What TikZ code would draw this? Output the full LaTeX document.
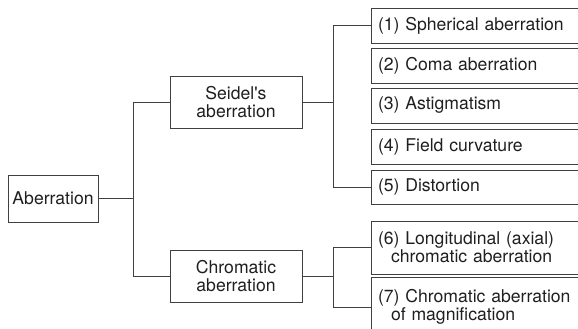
\documentclass[tikz,border=0pt]{standalone}
\usepackage{fontspec}
\setmainfont{TeX Gyre Heros}
\begin{document}
\begin{tikzpicture}[x=1pt,y=-1pt,
  lin/.style={draw=black!75,line width=0.9pt},
  box/.style={draw=black!75,line width=0.9pt,rectangle,inner sep=0pt,
    font=\fontsize{17.6}{18}\selectfont,text=black!88,align=center},
  rbox/.style={box,minimum width=219pt,text width=205pt,align=left}]
\useasboundingbox (0,0) rectangle (578,329);
\clip (0,0) rectangle (578,329);
\node[box,minimum width=90pt,minimum height=47pt] (ab) at (53,198.5) {Aberration};
\node[box,minimum width=132pt,minimum height=52pt] (se) at (236,102) {Seidel\textquotesingle s\\aberration};
\node[box,minimum width=132pt,minimum height=52pt] (ch) at (236,276) {Chromatic\\aberration};
\node[rbox,minimum height=35pt] (b1) at (480.5,25.5) {(1) Spherical aberration};
\node[rbox,minimum height=35pt] (b2) at (480.5,65.5) {(2) Coma aberration};
\node[rbox,minimum height=35pt] (b3) at (480.5,105.5) {(3) Astigmatism};
\node[rbox,minimum height=35pt] (b4) at (480.5,146.5) {(4) Field curvature};
\node[rbox,minimum height=34pt] (b5) at (480.5,187) {(5) Distortion};
\node[rbox,minimum height=53pt] (b6) at (480.5,247.5) {(6) Longitudinal (axial)\\\hspace*{13pt}chromatic aberration};
\node[rbox,minimum height=60pt] (b7) at (480.5,307) {(7) Chromatic aberration\\\hspace*{13pt}of magnification};
\coordinate (j1) at (133,0);
\coordinate (j2) at (333,0);
\draw[lin] (ab.east) -- (ab.east -| j1) |- (se.west);
\draw[lin] (ab.east -| j1) |- (ch.west);
\draw[lin] (se.east) -- (se.east -| j2) |- (b1.west);
\draw[lin] (se.east -| j2) |- (b5.west);
\draw[lin] (ch.east) -- (ch.east -| j2) |- (b6.west);
\draw[lin] (ch.east -| j2) |- (b7.west);
\end{tikzpicture}
\end{document}
